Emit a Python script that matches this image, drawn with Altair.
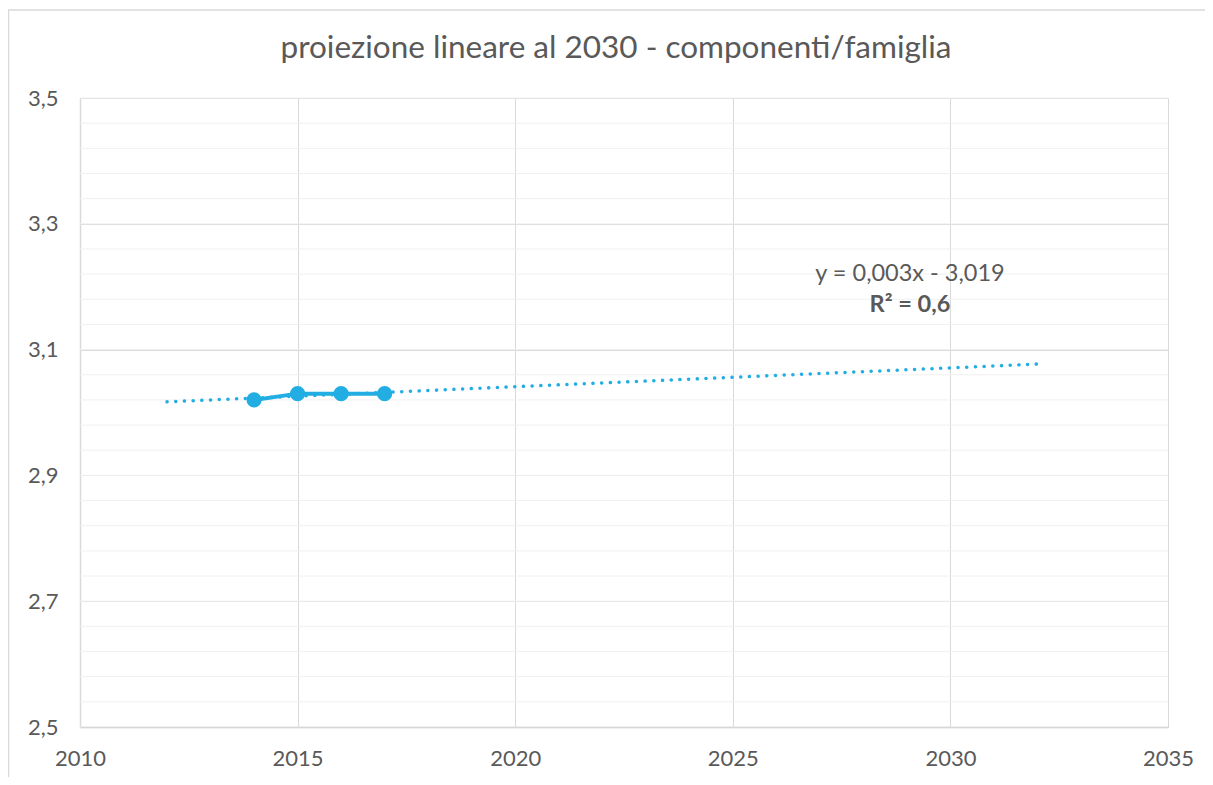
import altair as alt
import pandas as pd

years = [2014, 2015, 2016, 2017]
values = [3.02, 3.03, 3.03, 3.03]
trend_extent = [2012, 2032]
x_ticks = [2010, 2015, 2020, 2025, 2030, 2035]
y_ticks = [2.5, 2.7, 2.9, 3.1, 3.3, 3.5]
y_minor = [round(2.5 + 0.04 * i, 2) for i in range(26)]
eq_text = ["y = 0,003x - 3,019"]
r2_text = ["R² = 0,6"]
title_text = ["proiezione lineare al 2030 - componenti/famiglia"]

FONT = "Lato"
GREY = "#595959"
BLUE = "#22ade3"

df = pd.DataFrame({"anno": years, "valore": values})

xs = alt.Scale(domain=[2010, 2035], nice=False, zero=False)
ys = alt.Scale(domain=[2.5, 3.5], nice=False, zero=False)

# outer chart border
border = alt.Chart(pd.DataFrame({"a": [0]})).mark_rect(
    fill=None, stroke="#d9d9d9", strokeWidth=1.5, clip=False
).encode(x=alt.value(-71.5), x2=alt.value(1300), y=alt.value(-88), y2=alt.value(900))

base = alt.Chart(df)

grid = base.mark_point(opacity=0).encode(
    x=alt.X("anno:Q", scale=xs, axis=alt.Axis(
        values=x_ticks, format="d", title=None, grid=True, gridColor="#d9d9d9",
        domainColor="#bfbfbf", domainWidth=1.5, ticks=False, labelPadding=21,
        labelFlush=False, labelFontSize=22, labelColor=GREY, labelFont=FONT)),
    y=alt.Y("valore:Q", scale=ys, axis=alt.Axis(
        values=y_ticks, title=None, grid=True, gridColor="#d9d9d9",
        domainColor="#d9d9d9", domainWidth=1.5, ticks=False, labelPadding=22,
        labelFlush=False, labelFontSize=22, labelColor=GREY, labelFont=FONT,
        labelExpr="replace(format(datum.value, '.1f'), '.', ',')")),
)

# minor horizontal grid
minor = alt.Chart(pd.DataFrame({"v": y_minor})).mark_rule(color="#f0f0f0", strokeWidth=1).encode(
    y=alt.Y("v:Q", scale=ys)
)

trend = base.transform_regression("anno", "valore", extent=trend_extent).mark_line(
    color=BLUE, strokeWidth=3.5, strokeDash=[0.1, 8.6], strokeCap="round"
).encode(x=alt.X("anno:Q", scale=xs), y=alt.Y("valore:Q", scale=ys))

line = base.mark_line(color=BLUE, strokeWidth=4).encode(
    x=alt.X("anno:Q", scale=xs), y=alt.Y("valore:Q", scale=ys)
)
pts = base.mark_circle(color=BLUE, size=230, opacity=1).encode(
    x=alt.X("anno:Q", scale=xs), y=alt.Y("valore:Q", scale=ys)
)

eq = alt.Chart(pd.DataFrame({"t": eq_text})).mark_text(
    font=FONT, fontSize=23.5, color=GREY, align="center", baseline="middle"
).encode(text="t:N", x=alt.value(830), y=alt.value(176))
r2 = alt.Chart(pd.DataFrame({"t": r2_text})).mark_text(
    font=FONT, fontSize=23.5, color=GREY, fontWeight="bold", align="center", baseline="middle"
).encode(text="t:N", x=alt.value(830), y=alt.value(207))

ttl = alt.Chart(pd.DataFrame({"t": title_text})).mark_text(
    font=FONT, fontSize=31.5, color=GREY, align="center", baseline="middle", clip=False
).encode(text="t:N", x=alt.value(536), y=alt.value(-49))

chart = alt.layer(border, grid, minor, trend, line, pts, eq, r2, ttl).properties(
    width=1088, height=629,
    autosize=alt.AutoSizeParams(type="none"),
    padding={"left": 72, "top": 90, "right": 37, "bottom": 50},
).configure_view(stroke=None)

chart.save("out.html", embed_options={"renderer": "svg", "actions": False})
